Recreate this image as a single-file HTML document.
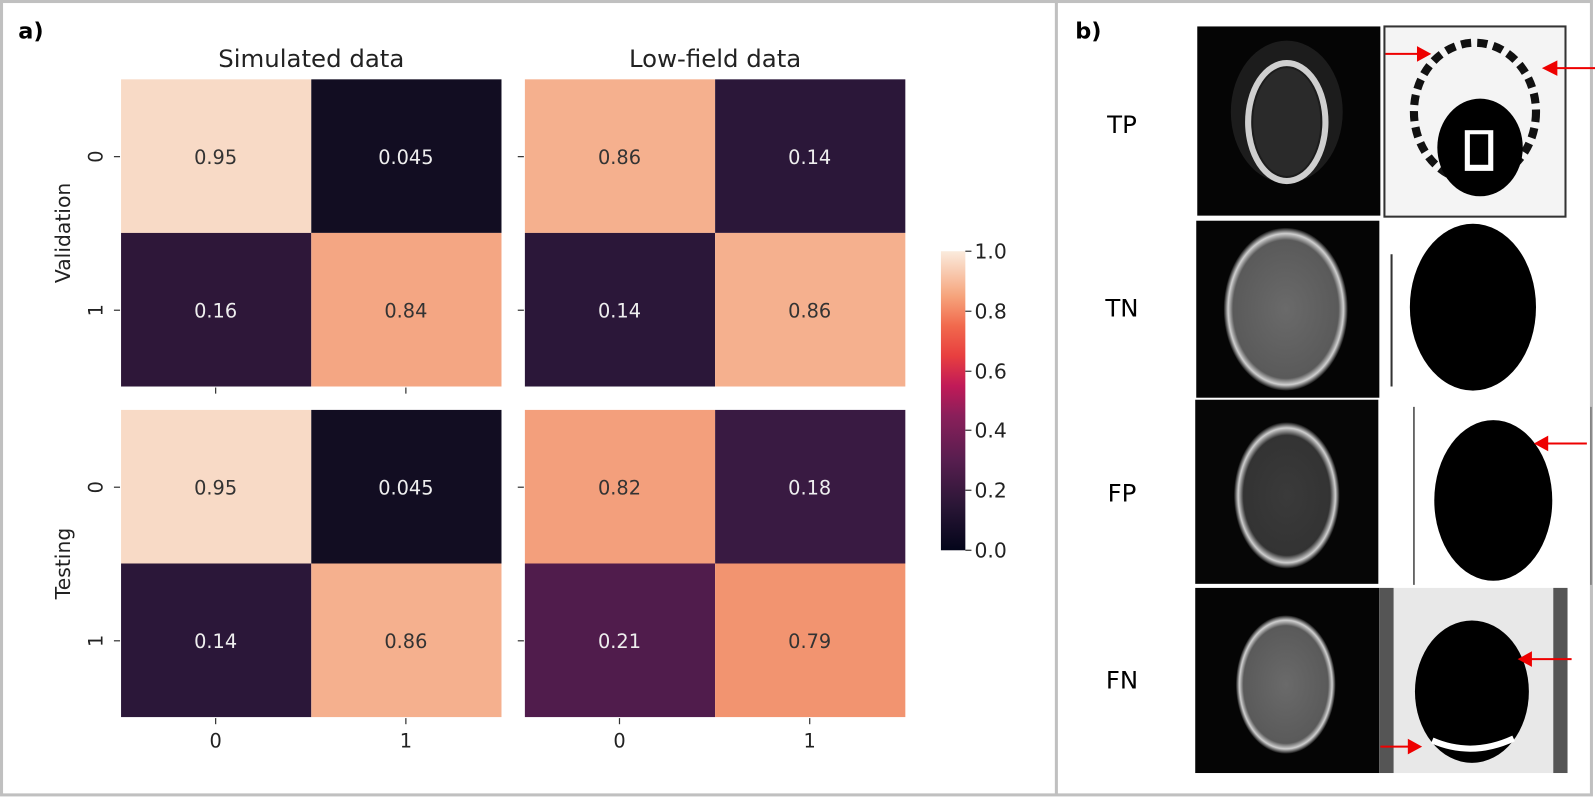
<!DOCTYPE html>
<html><head><meta charset="utf-8"><style>
html,body{margin:0;padding:0;background:#fff}
svg{display:block}
text{font-family:"DejaVu Sans","Liberation Sans",sans-serif}
</style></head><body>
<svg width="1595" height="801" viewBox="0 0 1568 787.5" preserveAspectRatio="none" xmlns="http://www.w3.org/2000/svg">
<defs>
<linearGradient id="cb" x1="0" y1="1" x2="0" y2="0">
<stop offset="0" stop-color="#03051a"/>
<stop offset="0.15" stop-color="#2a1636"/>
<stop offset="0.3" stop-color="#571e4f"/>
<stop offset="0.45" stop-color="#8a1f5a"/>
<stop offset="0.55" stop-color="#c11a58"/>
<stop offset="0.65" stop-color="#e83f3f"/>
<stop offset="0.75" stop-color="#f1694d"/>
<stop offset="0.85" stop-color="#f6a47c"/>
<stop offset="1" stop-color="#faebdd"/>
</linearGradient>
<radialGradient id="brain" cx="0.5" cy="0.5" r="0.5">
<stop offset="0" stop-color="#6a6a6a"/><stop offset="0.85" stop-color="#5a5a5a"/><stop offset="0.93" stop-color="#d0d0d0"/><stop offset="1" stop-color="#111"/>
</radialGradient>
<radialGradient id="brainD" cx="0.5" cy="0.5" r="0.5">
<stop offset="0" stop-color="#3a3a3a"/><stop offset="0.82" stop-color="#333"/><stop offset="0.92" stop-color="#cfcfcf"/><stop offset="1" stop-color="#0a0a0a"/>
</radialGradient>
</defs>
<rect x="0" y="0" width="1568" height="788" fill="#fff"/>
<rect x="1.5" y="1.5" width="1563" height="780" fill="none" stroke="#c0c0c0" stroke-width="3"/>
<rect x="1037" y="0" width="3" height="782" fill="#c0c0c0"/>

<text x="18" y="38" font-family="Liberation Sans" font-weight="bold" font-size="22" fill="#000">a)</text>
<text x="306" y="66" text-anchor="middle" font-size="24" fill="#222">Simulated data</text>
<text x="703" y="66" text-anchor="middle" font-size="24" fill="#222">Low-field data</text>

<g font-size="19" text-anchor="middle">
<rect x="119" y="78" width="187" height="151" fill="#f8dac6"/>
<rect x="306" y="78" width="187" height="151" fill="#120d22"/>
<rect x="119" y="229" width="187" height="151" fill="#2e1739"/>
<rect x="306" y="229" width="187" height="151" fill="#f4a683"/>
<text x="212" y="161" fill="#333">0.95</text><text x="399" y="161" fill="#eee">0.045</text>
<text x="212" y="312" fill="#eee">0.16</text><text x="399" y="312" fill="#333">0.84</text>

<rect x="516" y="78" width="187" height="151" fill="#f5b08e"/>
<rect x="703" y="78" width="187" height="151" fill="#2b1739"/>
<rect x="516" y="229" width="187" height="151" fill="#2b1739"/>
<rect x="703" y="229" width="187" height="151" fill="#f5b08e"/>
<text x="609" y="161" fill="#333">0.86</text><text x="796" y="161" fill="#eee">0.14</text>
<text x="609" y="312" fill="#eee">0.14</text><text x="796" y="312" fill="#333">0.86</text>

<rect x="119" y="403" width="187" height="151" fill="#f8dac6"/>
<rect x="306" y="403" width="187" height="151" fill="#120d22"/>
<rect x="119" y="554" width="187" height="151" fill="#2b1739"/>
<rect x="306" y="554" width="187" height="151" fill="#f5b08e"/>
<text x="212" y="486" fill="#333">0.95</text><text x="399" y="486" fill="#eee">0.045</text>
<text x="212" y="637" fill="#eee">0.14</text><text x="399" y="637" fill="#333">0.86</text>

<rect x="516" y="403" width="187" height="151" fill="#f39f7c"/>
<rect x="703" y="403" width="187" height="151" fill="#391a42"/>
<rect x="516" y="554" width="187" height="151" fill="#501c4c"/>
<rect x="703" y="554" width="187" height="151" fill="#f29470"/>
<text x="609" y="486" fill="#333">0.82</text><text x="796" y="486" fill="#eee">0.18</text>
<text x="609" y="637" fill="#eee">0.21</text><text x="796" y="637" fill="#333">0.79</text>
</g>

<g stroke="#333" stroke-width="1.2">
<line x1="112" y1="154" x2="118" y2="154"/><line x1="112" y1="305" x2="118" y2="305"/>
<line x1="112" y1="479" x2="118" y2="479"/><line x1="112" y1="630" x2="118" y2="630"/>
<line x1="509" y1="154" x2="515" y2="154"/><line x1="509" y1="305" x2="515" y2="305"/>
<line x1="509" y1="479" x2="515" y2="479"/><line x1="509" y1="630" x2="515" y2="630"/>
<line x1="212" y1="381" x2="212" y2="387"/><line x1="399" y1="381" x2="399" y2="387"/>
<line x1="212" y1="706" x2="212" y2="712"/><line x1="399" y1="706" x2="399" y2="712"/>
<line x1="609" y1="706" x2="609" y2="712"/><line x1="796" y1="706" x2="796" y2="712"/>
</g>
<g font-size="19" fill="#222">
<text transform="translate(101,154) rotate(-90)" text-anchor="middle">0</text>
<text transform="translate(101,305) rotate(-90)" text-anchor="middle">1</text>
<text transform="translate(101,479) rotate(-90)" text-anchor="middle">0</text>
<text transform="translate(101,630) rotate(-90)" text-anchor="middle">1</text>
<text transform="translate(69,229) rotate(-90)" text-anchor="middle" font-size="20">Validation</text>
<text transform="translate(69,554) rotate(-90)" text-anchor="middle" font-size="20">Testing</text>
<text x="212" y="735" text-anchor="middle">0</text><text x="399" y="735" text-anchor="middle">1</text>
<text x="609" y="735" text-anchor="middle">0</text><text x="796" y="735" text-anchor="middle">1</text>
</g>

<rect x="925" y="247" width="24" height="294" fill="url(#cb)"/>
<g stroke="#333" stroke-width="1.2">
<line x1="949" y1="247" x2="955" y2="247"/><line x1="949" y1="306" x2="955" y2="306"/>
<line x1="949" y1="365" x2="955" y2="365"/><line x1="949" y1="423" x2="955" y2="423"/>
<line x1="949" y1="482" x2="955" y2="482"/><line x1="949" y1="541" x2="955" y2="541"/>
</g>
<g font-size="20" fill="#222">
<text x="958" y="254">1.0</text><text x="958" y="313">0.8</text><text x="958" y="372">0.6</text>
<text x="958" y="430">0.4</text><text x="958" y="489">0.2</text><text x="958" y="548">0.0</text>
</g>

<text x="1057" y="38" font-family="Liberation Sans" font-weight="bold" font-size="22" fill="#000">b)</text>
<g font-family="Liberation Sans" font-size="24" fill="#000" text-anchor="middle">
<text x="1103" y="131">TP</text><text x="1103" y="311">TN</text>
<text x="1103" y="493">FP</text><text x="1103" y="677">FN</text>
</g>

<rect x="1177" y="26" width="180" height="186" fill="#050505"/>
<ellipse cx="1265" cy="110" rx="55" ry="70" fill="#1c1c1c"/>
<ellipse cx="1265" cy="120" rx="38" ry="58" fill="none" stroke="#cfcfcf" stroke-width="6"/>
<ellipse cx="1265" cy="120" rx="33" ry="53" fill="#2a2a2a"/>
<rect x="1361" y="26" width="178" height="187" fill="#f4f4f4" stroke="#333" stroke-width="2"/>
<ellipse cx="1450" cy="110" rx="60" ry="68" fill="none" stroke="#111" stroke-width="8" stroke-dasharray="10 6"/>
<ellipse cx="1455" cy="145" rx="42" ry="48" fill="#000"/>
<rect x="1440" y="128" width="28" height="40" fill="#fff"/>
<rect x="1445" y="132" width="18" height="30" fill="#000"/>

<rect x="1176" y="217" width="180" height="174" fill="#050505"/>
<ellipse cx="1264" cy="304" rx="61" ry="80" fill="url(#brain)"/>
<ellipse cx="1448" cy="302" rx="62" ry="82" fill="#000"/>
<line x1="1368" y1="250" x2="1368" y2="380" stroke="#333" stroke-width="2"/>

<rect x="1175" y="393" width="180" height="181" fill="#060606"/>
<ellipse cx="1265" cy="487" rx="52" ry="72" fill="url(#brainD)"/>
<ellipse cx="1468" cy="492" rx="58" ry="79" fill="#000"/>
<line x1="1390" y1="400" x2="1390" y2="575" stroke="#444" stroke-width="1.5"/>
<line x1="1564" y1="400" x2="1564" y2="575" stroke="#777" stroke-width="1.5"/>

<rect x="1175" y="578" width="181" height="182" fill="#050505"/>
<ellipse cx="1264" cy="673" rx="49" ry="68" fill="url(#brain)"/>
<rect x="1356" y="578" width="185" height="182" fill="#e8e8e8"/>
<rect x="1356" y="578" width="14" height="182" fill="#555"/>
<rect x="1527" y="578" width="14" height="182" fill="#555"/>
<ellipse cx="1447" cy="680" rx="56" ry="70" fill="#000"/>
<path d="M1408 728 Q1447 745 1488 726" stroke="#fff" stroke-width="6" fill="none"/>

<g stroke="#e00" stroke-width="2" fill="#e00">
<line x1="1362" y1="53" x2="1395" y2="53"/><polygon points="1405,53 1394,47 1394,59"/>
<line x1="1568" y1="67" x2="1530" y2="67"/><polygon points="1518,67 1530,61 1530,73"/>
<line x1="1560" y1="436" x2="1520" y2="436"/><polygon points="1510,436 1521,430 1521,442"/>
<line x1="1545" y1="648" x2="1505" y2="648"/><polygon points="1494,648 1505,642 1505,654"/>
<line x1="1357" y1="734" x2="1385" y2="734"/><polygon points="1396,734 1385,728 1385,740"/>
</g>
</svg>
</body></html>
